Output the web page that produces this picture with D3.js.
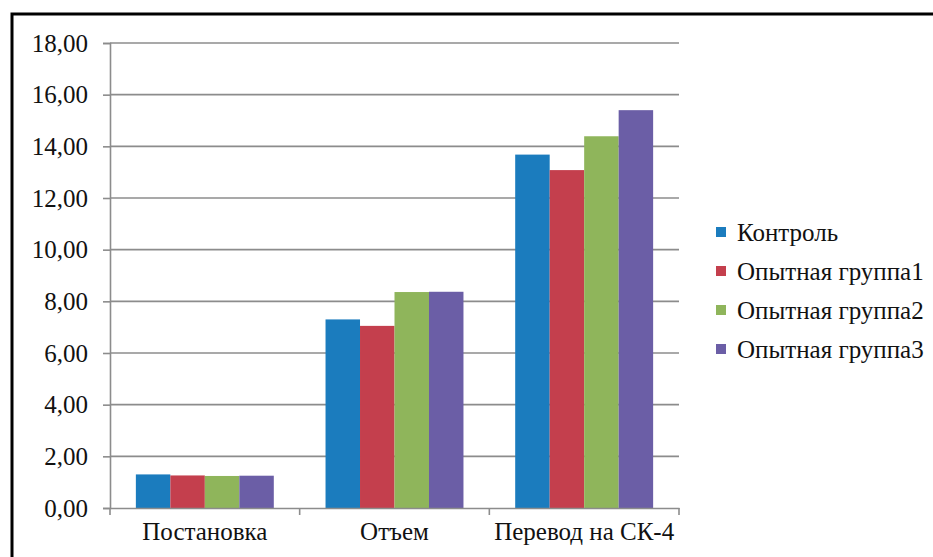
<!DOCTYPE html>
<html>
<head>
<meta charset="utf-8">
<script src="https://cdn.jsdelivr.net/npm/d3@7"></script>
<style>
  html, body { margin: 0; padding: 0; background: #fff; }
  svg { display: block; }
</style>
</head>
<body>
<div id="chart"></div>
<script>
// Stages of the trial
const categories = ["Постановка", "Отъем", "Перевод на СК-4"];
// Groups (series)
const seriesNames = ["Контроль", "Опытная группа1", "Опытная группа2", "Опытная группа3"];
const seriesColors = ["#1b7cbe", "#c43f4d", "#8fb55b", "#6b5ea6"];
// Values per group, one per stage
const control = [1.30, 7.30, 13.68];
const group1 = [1.26, 7.05, 13.08];
const group2 = [1.24, 8.36, 14.39];
const group3 = [1.25, 8.37, 15.40];
const seriesValues = [control, group1, group2, group3];
// Y axis ticks
const yTicks = [0, 2, 4, 6, 8, 10, 12, 14, 16, 18];

const FONT = "Liberation Serif, Times New Roman, DejaVu Serif, Noto Serif, FreeSerif, serif";
const FS = "25px";

const W = 933, H = 557;
const plot = { left: 110, right: 679, top: 43, bottom: 508 };

const svg = d3.select("#chart").append("svg")
  .attr("width", W).attr("height", H)
  .style("font-family", FONT);

// frame around the chart area
svg.append("path")
  .attr("d", `M12,${H + 5} L12,14 L${W + 5},14`)
  .attr("fill", "none").attr("stroke", "#000").attr("stroke-width", 3);

const x0 = d3.scaleBand().domain(categories).range([plot.left, plot.right]).paddingInner(0).paddingOuter(0);
const bw = x0.bandwidth() / (seriesNames.length + 1.5);
const y = d3.scaleLinear().domain([0, 18]).range([plot.bottom, plot.top]);

// horizontal gridlines
svg.append("g").selectAll("line").data(yTicks.filter(t => t > 0)).join("line")
  .attr("x1", plot.left).attr("x2", plot.right)
  .attr("y1", d => y(d)).attr("y2", d => y(d))
  .attr("stroke", "#8c8c8c").attr("stroke-width", 1.6);

// y axis
const yAxis = svg.append("g").attr("transform", `translate(${plot.left},0)`)
  .call(d3.axisLeft(y).tickValues(yTicks).tickSize(7).tickPadding(15)
    .tickFormat(d => d3.format(".2f")(d).replace(".", ",")));
yAxis.style("font-family", FONT).style("font-size", FS);
yAxis.select(".domain").attr("stroke", "#8c8c8c").attr("stroke-width", 1.6);
yAxis.selectAll(".tick line").attr("stroke", "#8c8c8c").attr("stroke-width", 1.6);
yAxis.selectAll(".tick text").attr("fill", "#111");

// bars
const groups = svg.append("g").selectAll("g").data(categories).join("g");
groups.each(function (cat, ci) {
  const start = x0(cat) + bw * 0.75;
  d3.select(this).selectAll("rect").data(seriesValues.map(s => s[ci])).join("rect")
    .attr("x", (d, si) => start + si * bw)
    .attr("width", bw)
    .attr("y", d => y(d))
    .attr("height", d => y(0) - y(d))
    .attr("fill", (d, si) => seriesColors[si]);
});

// x axis
const xAxis = svg.append("g").attr("transform", `translate(0,${plot.bottom})`)
  .call(d3.axisBottom(x0).tickSize(0).tickPadding(14));
xAxis.style("font-family", FONT).style("font-size", FS);
xAxis.select(".domain").attr("stroke", "#8c8c8c").attr("stroke-width", 1.6);
xAxis.selectAll(".tick text").attr("fill", "#111");
// category boundary tick marks
svg.append("g").selectAll("line")
  .data(categories.map(c => x0(c)).concat([plot.right]))
  .join("line")
  .attr("x1", d => d).attr("x2", d => d)
  .attr("y1", plot.bottom).attr("y2", plot.bottom + 7)
  .attr("stroke", "#8c8c8c").attr("stroke-width", 1.6);

// legend
const legend = svg.append("g").attr("transform", "translate(716,232)")
  .style("font-family", FONT).style("font-size", FS);
const items = legend.selectAll("g").data(seriesNames).join("g")
  .attr("transform", (d, i) => `translate(0,${i * 39})`);
items.append("rect").attr("x", 0).attr("y", -5).attr("width", 10).attr("height", 10)
  .attr("fill", (d, i) => seriesColors[i]);
items.append("text").attr("x", 21).attr("y", 0).attr("dy", "0.35em")
  .attr("fill", "#111").text(d => d);
</script>
</body>
</html>
